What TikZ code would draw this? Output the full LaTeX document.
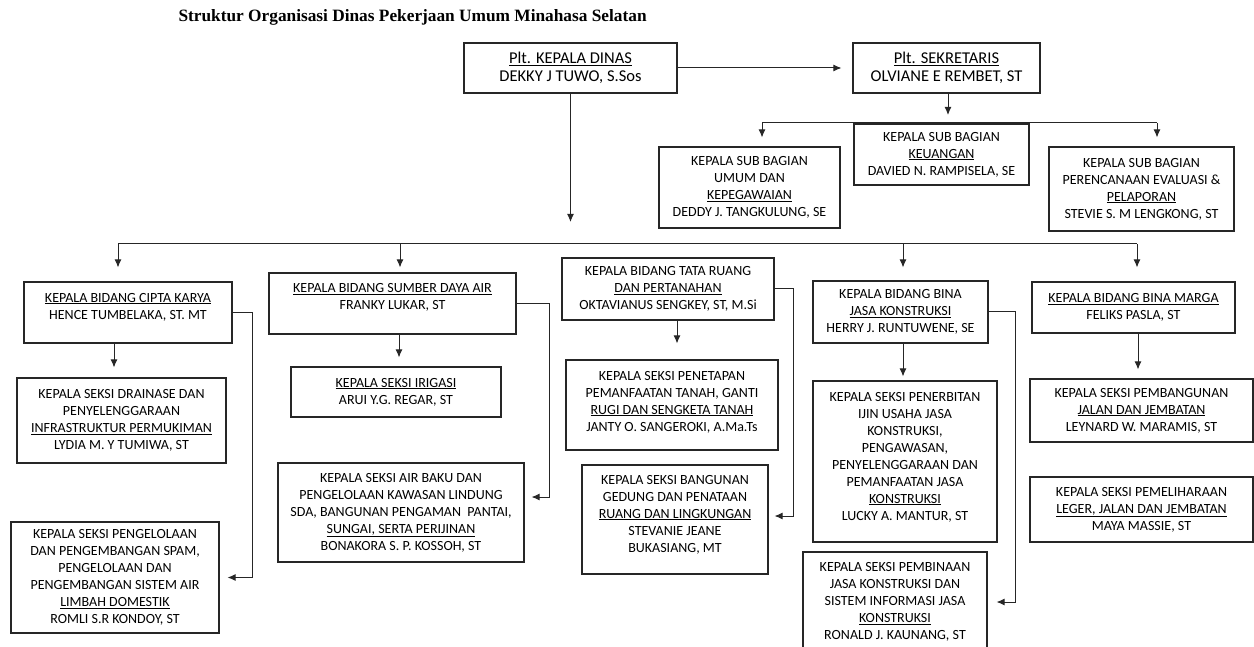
\documentclass[tikz,border=0pt]{standalone}
\usepackage{fontspec}
\setmainfont{Carlito}
\newfontfamily\titlefont{Liberation Serif}
\usetikzlibrary{arrows.meta,calc}
\tikzset{>={Latex[length=8pt,width=7pt]}}
\tikzstyle{unitbox}=[rectangle,draw=black!85,line width=1.1pt,align=center,inner sep=0pt,font=\fontsize{14}{17}\selectfont]
\tikzstyle{headbox}=[unitbox,font=\fontsize{16.5}{18}\selectfont]
\tikzstyle{link}=[draw=black!85,line width=1pt]

\begin{document}
\begin{tikzpicture}[x=1pt,y=-1pt]
	\useasboundingbox (0,0) rectangle (1254,647);
	\node[anchor=base west, font=\titlefont\bfseries\fontsize{17.3}{20}\selectfont] (title) at (175,21.5) {Struktur Organisasi Dinas Pekerjaan Umum Minahasa Selatan};
	
	% pimpinan dan sekretariat
	\node[headbox, minimum width=213pt, minimum height=50pt] (kadis) at (570.5,68) {\underline{Plt. KEPALA DINAS}\\DEKKY J TUWO, S.Sos};
	\node[headbox, minimum width=187pt, minimum height=50pt] (sekre) at (946.5,68) {\underline{Plt. SEKRETARIS}\\OLVIANE E REMBET, ST};
	\node[unitbox, minimum width=181pt, minimum height=81pt] (umum) at (749.5,187.5) {KEPALA SUB BAGIAN\\UMUM DAN\\\underline{KEPEGAWAIAN}\\DEDDY J. TANGKULUNG, SE};
	\node[unitbox, minimum width=175pt, minimum height=61pt] (keu) at (941.5,154.5) {KEPALA SUB BAGIAN\\\underline{KEUANGAN}\\DAVIED N. RAMPISELA, SE};
	\node[unitbox, minimum width=185pt, minimum height=84pt] (renc) at (1141.5,189) {KEPALA SUB BAGIAN\\PERENCANAAN EVALUASI \&\\\underline{PELAPORAN}\\STEVIE S. M LENGKONG, ST};
	
	% bidang
	\node[unitbox, minimum width=208pt, minimum height=61pt] (cipta) at (128,312.5) {\underline{KEPALA BIDANG CIPTA KARYA}\\HENCE TUMBELAKA, ST. MT\\[-4pt]\mbox{}};
	\node[unitbox, minimum width=247pt, minimum height=61pt] (sda) at (392.5,303.5) {\underline{KEPALA BIDANG SUMBER DAYA AIR}\\FRANKY LUKAR, ST\\[-3pt]\mbox{}};
	\node[unitbox, minimum width=212pt, minimum height=62pt] (tata) at (668,289) {KEPALA BIDANG TATA RUANG\\\underline{DAN PERTANAHAN}\\OKTAVIANUS SENGKEY, ST, M.Si};
	\node[unitbox, minimum width=175pt, minimum height=62pt] (jasa) at (900.5,312) {KEPALA BIDANG BINA\\\underline{JASA KONSTRUKSI}\\HERRY J. RUNTUWENE, SE};
	\node[unitbox, minimum width=203pt, minimum height=51pt] (marga) at (1133.5,307.5) {\underline{KEPALA BIDANG BINA MARGA}\\FELIKS PASLA, ST};
	
	% seksi
	\node[unitbox, minimum width=209pt, minimum height=85pt] (drain) at (121.5,420.5) {KEPALA SEKSI DRAINASE DAN\\PENYELENGGARAAN\\\underline{INFRASTRUKTUR PERMUKIMAN}\\LYDIA M. Y TUMIWA, ST};
	\node[unitbox, minimum width=208pt, minimum height=111pt] (spam) at (115,577.5) {KEPALA SEKSI PENGELOLAAN\\DAN PENGEMBANGAN SPAM,\\PENGELOLAAN DAN\\PENGEMBANGAN SISTEM AIR\\\underline{LIMBAH DOMESTIK}\\ROMLI S.R KONDOY, ST};
	\node[unitbox, minimum width=210pt, minimum height=50pt] (irig) at (396,392) {\underline{KEPALA SEKSI IRIGASI}\\ARUI Y.G. REGAR, ST};
	\node[unitbox, minimum width=246pt, minimum height=99pt] (baku) at (401,512.5) {KEPALA SEKSI AIR BAKU DAN\\PENGELOLAAN KAWASAN LINDUNG\\SDA, BANGUNAN PENGAMAN~ PANTAI,\\\underline{SUNGAI, SERTA PERIJINAN}\\BONAKORA S. P. KOSSOH, ST};
	\node[unitbox, minimum width=212pt, minimum height=90pt] (tetap) at (672,405) {KEPALA SEKSI PENETAPAN\\PEMANFAATAN TANAH, GANTI\\\underline{RUGI DAN SENGKETA TANAH}\\JANTY O. SANGEROKI, A.Ma.Ts\\[-9pt]\mbox{}};
	\node[unitbox, minimum width=186pt, minimum height=109pt] (gedung) at (675,519.5) {KEPALA SEKSI BANGUNAN\\GEDUNG DAN PENATAAN\\\underline{RUANG DAN LINGKUNGAN}\\STEVANIE JEANE\\BUKASIANG, MT\\[-5pt]\mbox{}};
	\node[unitbox, minimum width=184pt, minimum height=161pt] (terbit) at (905,461.5) {KEPALA SEKSI PENERBITAN\\IJIN USAHA JASA\\KONSTRUKSI,\\PENGAWASAN,\\PENYELENGGARAAN DAN\\PEMANFAATAN JASA\\\underline{KONSTRUKSI}\\LUCKY A. MANTUR, ST\\[-6pt]\mbox{}};
	\node[unitbox, minimum width=184pt, minimum height=100pt] (bina) at (895,602) {KEPALA SEKSI PEMBINAAN\\JASA KONSTRUKSI DAN\\SISTEM INFORMASI JASA\\\underline{KONSTRUKSI}\\RONALD J. KAUNANG, ST};
	\node[unitbox, minimum width=223pt, minimum height=63pt] (bangun) at (1141.5,410.5) {KEPALA SEKSI PEMBANGUNAN\\\underline{JALAN DAN JEMBATAN}\\LEYNARD W. MARAMIS, ST};
	\node[unitbox, minimum width=223pt, minimum height=65pt] (pelihara) at (1141.5,509.5) {KEPALA SEKSI PEMELIHARAAN\\\underline{LEGER, JALAN DAN JEMBATAN}\\MAYA MASSIE, ST};
	
	% garis komando
	\coordinate (sbusL) at (762,123);
	\coordinate (sbusR) at (1157,123);
	\coordinate (b1) at (118,244);
	\coordinate (b2) at (400,244);
	\coordinate (b4) at (903,244);
	\coordinate (b5) at (1137,244);
	
	\draw[link,->,shorten >=11pt] (kadis.east) -- (sekre.west);
	\draw[link,->,shorten >=22pt] (kadis.south) -- (kadis.south |- b1);
	\draw[link,->,shorten >=8pt] ([xshift=1.5pt]sekre.south) -- ([xshift=1.5pt]sekre.south |- sbusL);
	\draw[link] (sbusL) -- (sbusR);
	\draw[link,->,shorten >=9pt] (sbusL) -- (sbusL |- umum.north);
	\draw[link,->,shorten >=9pt] (sbusR) -- (sbusR |- renc.north);
	
	\draw[link] (b1) -- (b5);
	\draw[link,->,shorten >=14pt] (b1) -- (b1 |- cipta.north);
	\draw[link,->,shorten >=5pt] (b2) -- (b2 |- sda.north);
	\draw[link,->,shorten >=13pt] (b4) -- (b4 |- jasa.north);
	\draw[link,->,shorten >=14pt] (b5) -- (b5 |- marga.north);
	
	\draw[link,->,shorten >=10pt] ([xshift=-14pt]cipta.south) -- ([xshift=-14pt]cipta.south |- drain.north);
	\draw[link,->,shorten >=9pt] ([xshift=6.5pt]sda.south) -- ([xshift=6.5pt]sda.south |- irig.north);
	\draw[link,->,shorten >=16pt] ([xshift=9pt]tata.south) -- ([xshift=9pt]tata.south |- tetap.north);
	\draw[link,->,shorten >=4pt] ([xshift=2.5pt]jasa.south) -- ([xshift=2.5pt]jasa.south |- terbit.north);
	\draw[link,->,shorten >=9pt] ([xshift=4.5pt]marga.south) -- ([xshift=4.5pt]marga.south |- bangun.north);
	
	\draw[link,->,shorten >=8pt] (cipta.east) -- ++(20,0) |- (spam.east);
	\draw[link,->,shorten >=7pt] (sda.east) -- ++(33,0) |- ([yshift=15.5pt]baku.east);
	\draw[link,->,shorten >=6pt] (tata.east) -- ++(19,0) |- ([yshift=3.5pt]gedung.east);
	\draw[link,->,shorten >=9pt] (jasa.east) -- ++(27,0) |- (bina.east);
\end{tikzpicture}
\end{document}
